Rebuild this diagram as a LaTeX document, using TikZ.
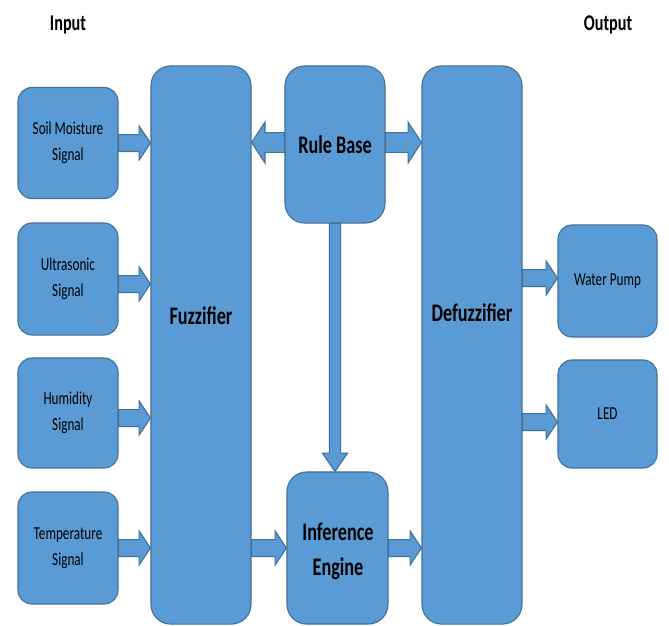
\documentclass[tikz,border=0pt]{standalone}
\usepackage{fontspec}
\setmainfont[FakeStretch=0.72]{Carlito}
\usetikzlibrary{calc}
\definecolor{boxfill}{HTML}{5B9BD5}
\definecolor{boxline}{HTML}{41719C}
\tikzset{
  box/.style={draw=boxline, fill=boxfill, line width=0.8pt, rounded corners=10pt,
    minimum width=2.5cm, align=center, inner sep=0pt,
    font=\fontsize{13}{18.5}\selectfont},
  bigbox/.style={box, rounded corners=14pt, font=\fontsize{18}{25}\selectfont\bfseries},
  title/.style={font=\fontsize{16}{20}\selectfont\bfseries},
  blockarrow/.style n args={3}{draw=boxline, fill=boxfill, line width=0.8pt,
    to path={let \p1=(\tikztostart), \p2=(\tikztotarget),
      \n1={atan2(\y2-\y1,\x2-\x1)} in
      ($(\p1)+(\n1+90:#1)$) -- ($(\p2)+(\n1+180:#3)+(\n1+90:#1)$)
      -- ($(\p2)+(\n1+180:#3)+(\n1+90:#2)$) -- (\p2)
      -- ($(\p2)+(\n1+180:#3)+(\n1-90:#2)$) -- ($(\p2)+(\n1+180:#3)+(\n1-90:#1)$)
      -- ($(\p1)+(\n1-90:#1)$) -- cycle}},
  harrow/.style={blockarrow={6pt}{12pt}{8pt}},
  rarrow/.style={blockarrow={7pt}{14.5pt}{9.5pt}},
  varrow/.style={blockarrow={4pt}{9pt}{13pt}},
}
\begin{document}
\begin{tikzpicture}[x=0.025cm, y=-0.025cm]
  \useasboundingbox (0,0) rectangle (669,625);
  \clip (0,0) rectangle (669,625);
  % titles
  \node[title] (input) at (68,25) {Input};
  \node[title] (output) at (608,25) {Output};
  % sensor inputs
  \node[box, minimum height=2.775cm] (soil) at (68,143) {Soil Moisture\\Signal};
  \node[box, minimum height=2.8cm] (ultra) at (68,279) {Ultrasonic\\Signal};
  \node[box, minimum height=2.75cm] (humid) at (68,413) {Humidity\\Signal};
  \node[box, minimum height=2.8cm] (temp) at (68,548) {Temperature\\Signal};
  % fuzzy blocks
  \node[bigbox, minimum height=13.95cm] (fuzz) at (201,345) {};
  \node[font=\fontsize{18}{25}\selectfont\bfseries] (fuzzlabel) at (201,316) {Fuzzifier};
  \node[bigbox, minimum height=3.925cm] (rule) at (335,144.5) {Rule Base};
  \node[bigbox, minimum height=3.8cm, minimum width=2.525cm] (infer) at (337.5,548) {};
  \node[font=\fontsize{18}{25}\selectfont\bfseries, align=center] (inferlabel) at (338,551) {Inference\\Engine};
  \node[bigbox, minimum height=13.95cm] (defuzz) at (472,345) {};
  \node[font=\fontsize{18}{25}\selectfont\bfseries] (defuzzlabel) at (472,313) {Defuzzifier};
  % outputs
  \node[box, minimum height=2.8cm, minimum width=2.475cm] (pump) at (607.5,281) {Water Pump};
  \node[box, minimum height=2.7cm, minimum width=2.475cm] (led) at (607.5,414) {LED};
  % arrows
  \draw[harrow] (soil.east) to (soil.east -| fuzz.west);
  \draw[harrow] ($(ultra.east)+(0,5)$) to ($(ultra.east -| fuzz.west)+(0,5)$);
  \draw[harrow] ($(humid.east)+(0,5)$) to ($(humid.east -| fuzz.west)+(0,5)$);
  \draw[harrow] (temp.east) to (temp.east -| fuzz.west);
  \draw[rarrow] ($(rule.west)+(0,-2)$) to ($(rule.west -| fuzz.east)+(0,-2)$);
  \draw[rarrow] ($(rule.east)+(0,-2)$) to ($(rule.east -| defuzz.west)+(0,-2)$);
  \draw[varrow] (rule.south) to (rule.south |- infer.north);
  \draw[harrow] (fuzz.east |- infer.west) to (infer.west);
  \draw[harrow] (infer.east) to (infer.east -| defuzz.west);
  \draw[harrow] ($(defuzz.east |- pump.west)+(0,-3)$) to ($(pump.west)+(0,-3)$);
  \draw[harrow] ($(defuzz.east |- led.west)+(0,8)$) to ($(led.west)+(0,8)$);
\end{tikzpicture}
\end{document}
